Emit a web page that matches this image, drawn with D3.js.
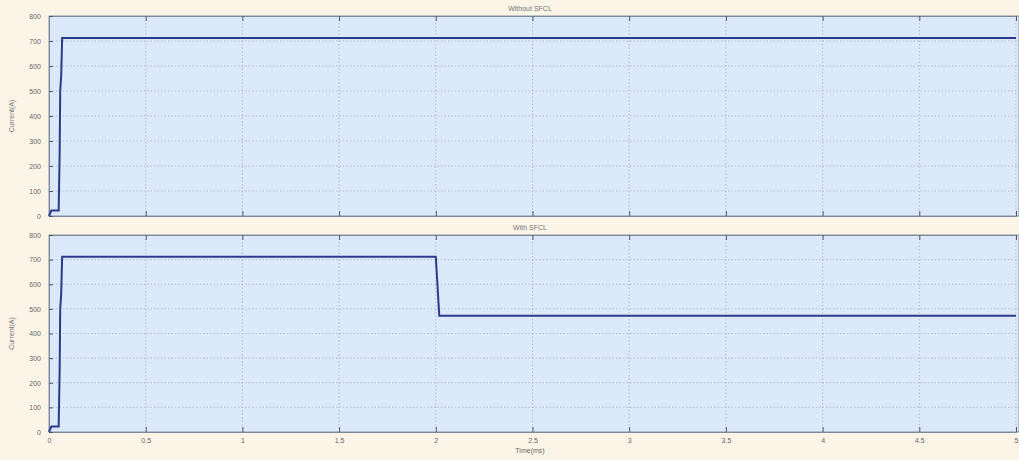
<!DOCTYPE html>
<html><head><meta charset="utf-8">
<script src="https://cdn.jsdelivr.net/npm/d3@7"></script>
<style>body{margin:0;background:#fdf4e8;}svg{display:block;}</style>
</head><body>
<svg id="c" width="1019" height="460"></svg>
<script>
const xTicks = [0,0.5,1,1.5,2,2.5,3,3.5,4,4.5,5];
const yTicks = [0,100,200,300,400,500,600,700,800];
const titles = ["Without SFCL","With SFCL"];
const timeTop = [0,0.012,0.05,0.055,0.058,0.063,0.068,5];
const currTop = [0,22,22,250,500,560,712,712];
const timeBot = [0,0.012,0.05,0.055,0.058,0.063,0.068,2.0,2.018,5];
const currBot = [0,22,22,250,500,560,712,712,472,472];

const svg = d3.select("#c");
const x = d3.scaleLinear().domain([0,5]).range([49,1016]);
const panels = [
  {title:titles[0], t:timeTop, v:currTop, top:16, bot:216},
  {title:titles[1], t:timeBot, v:currBot, top:235, bot:432}
];
const font = "Liberation Sans, Arial";
panels.forEach(p=>{
  const y = d3.scaleLinear().domain([0,800]).range([p.bot,p.top]);
  const g = svg.append("g");
  g.append("rect").attr("x",x(0)).attr("y",p.top).attr("width",x(5)-x(0)+3).attr("height",p.bot-p.top)
    .attr("fill","#dce9fa").attr("stroke","#8a95a5").attr("stroke-width",1);
  g.selectAll(".gx").data(xTicks.slice(1)).enter().append("line")
    .attr("x1",d=>x(d)).attr("x2",d=>x(d)).attr("y1",p.top).attr("y2",p.bot)
    .attr("stroke","#a8b4c4").attr("stroke-width",0.8).attr("stroke-dasharray","1.5,2");
  g.selectAll(".gy").data(yTicks.slice(1,-1)).enter().append("line")
    .attr("x1",x(0)).attr("x2",x(5)+3).attr("y1",d=>y(d)).attr("y2",d=>y(d))
    .attr("stroke","#a8b4c4").attr("stroke-width",0.8).attr("stroke-dasharray","1.5,2");
  const ax = g.append("g").attr("transform",`translate(0,${p.bot})`)
    .call(d3.axisBottom(x).tickValues(xTicks).tickSize(-5).tickFormat(d3.format("")));
  const ax2 = g.append("g").attr("transform",`translate(0,${p.top})`)
    .call(d3.axisTop(x).tickValues(xTicks).tickSize(-5).tickFormat(""));
  const ay = g.append("g").attr("transform",`translate(${x(0)},0)`)
    .call(d3.axisLeft(y).tickValues(yTicks).tickSize(-4).tickPadding(8));
  [ax,ax2,ay].forEach(a=>{
    a.select(".domain").attr("stroke","#7d8898");
    a.selectAll(".tick line").attr("stroke","#556");
    a.selectAll("text").attr("fill","#666").style("font-family",font).style("font-size","7px");
  });
  if(p===panels[0]) ax.selectAll("text").remove();
  ax.selectAll("text").attr("dy","1.2em");
  g.append("text").attr("x",530).attr("y",p.top-5).attr("text-anchor","middle")
    .attr("fill","#777").style("font-family",font).style("font-size","7px").text(p.title);
  g.append("text").attr("transform",`translate(14,${(p.top+p.bot)/2}) rotate(-90)`).attr("text-anchor","middle")
    .attr("fill","#777").style("font-family",font).style("font-size","7px").text("Current(A)");
  const line = d3.line().x((d,i)=>x(p.t[i])).y(d=>y(d));
  g.append("path").datum(p.v).attr("d",line).attr("fill","none").attr("stroke","#2a3b8c").attr("stroke-width",2);
});
svg.append("text").attr("x",530).attr("y",453).attr("text-anchor","middle")
  .attr("fill","#666").style("font-family",font).style("font-size","7px").text("Time(ms)");
</script>
</body></html>
